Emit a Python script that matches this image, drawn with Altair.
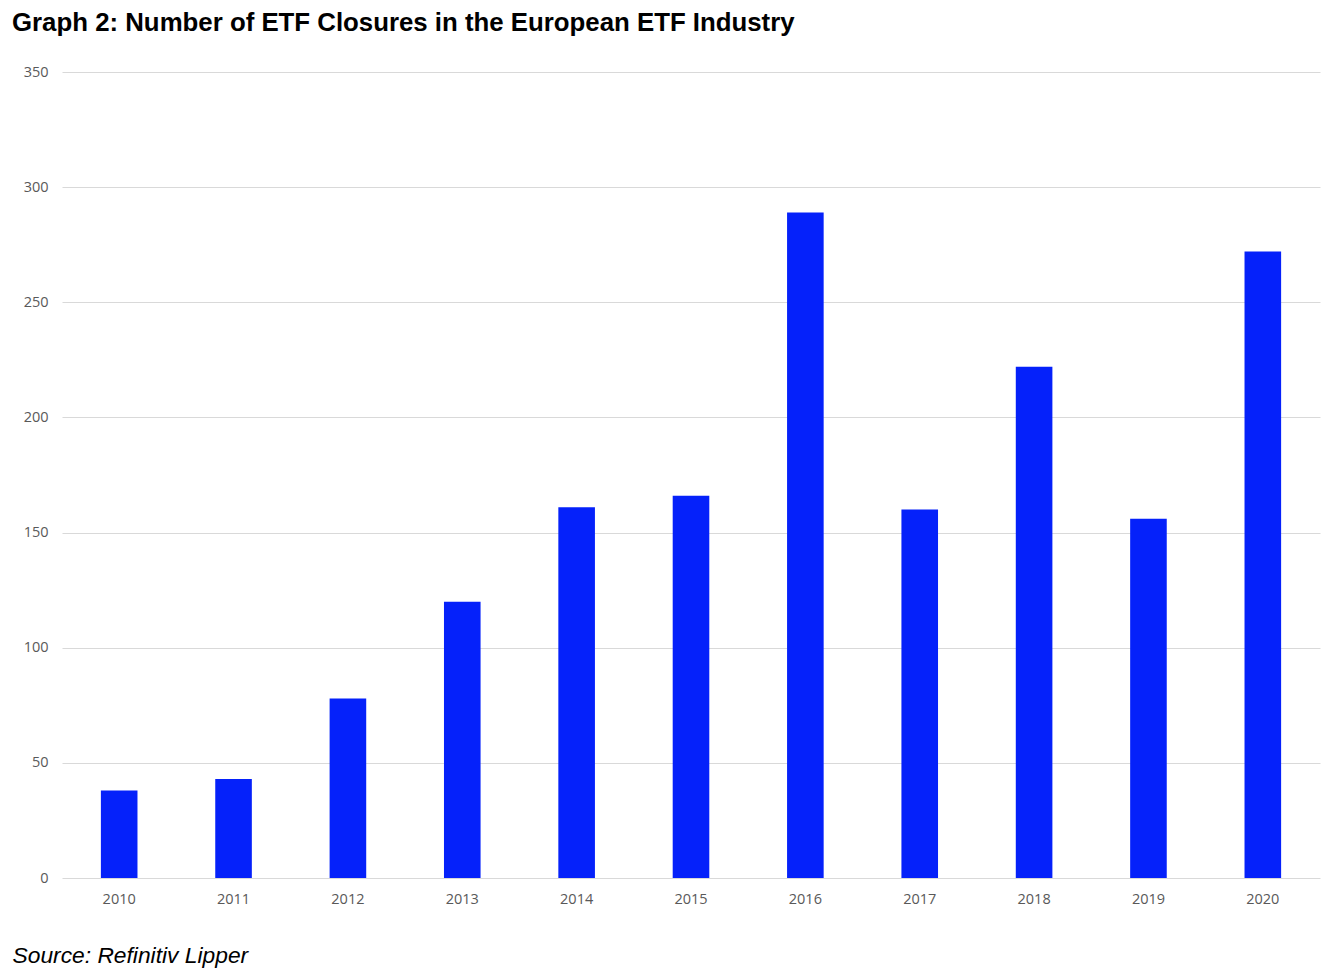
import altair as alt
import pandas as pd

years = ["2010", "2011", "2012", "2013", "2014", "2015", "2016", "2017", "2018", "2019", "2020"]
closures = [38, 43, 78, 120, 161, 166, 289, 160, 222, 156, 272]

df = pd.DataFrame({"year": years, "closures": closures})

chart = alt.Chart(df).mark_bar(color="#0521FA").encode(
    x=alt.X("year:N", sort=years,
            scale=alt.Scale(paddingInner=0.68, paddingOuter=0.34),
            axis=alt.Axis(title="Source: Refinitiv Lipper", labelAngle=0,
                          labelFont="Open Sans", labelFontSize=14.5, labelColor="#595959",
                          labelPadding=14, ticks=False, domain=False, grid=False,
                          titleFont="Liberation Sans", titleFontSize=22.8, titleFontStyle="italic",
                          titleFontWeight="normal", titleColor="#000000",
                          titleAnchor="start", titleAlign="left", titleBaseline="alphabetic",
                          titleX=-50, titleY=84)),
    y=alt.Y("closures:Q", scale=alt.Scale(domain=[0, 350]),
            axis=alt.Axis(title=None, values=[0, 50, 100, 150, 200, 250, 300, 350],
                          labelFont="Open Sans", labelFontSize=14.5, labelColor="#595959",
                          labelPadding=14, ticks=False, domain=False,
                          gridColor="#D9D9D9", gridWidth=1.2)),
).properties(
    width=1258,
    height=806,
    padding={"left": 4, "top": 2, "right": 4, "bottom": 2},
    title=alt.TitleParams("Graph 2: Number of ETF Closures in the European ETF Industry",
                          anchor="start", frame="group", dx=-50, offset=27,
                          font="Liberation Sans", fontSize=25.8, fontWeight="bold", color="#000000"),
).configure_view(stroke=None)

chart.save("out.html", embed_options={"renderer": "svg", "actions": False})
